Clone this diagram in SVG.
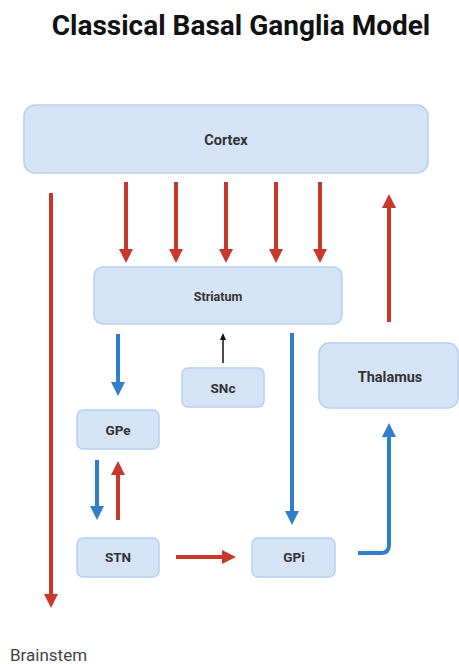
<svg xmlns="http://www.w3.org/2000/svg" width="459" height="664" viewBox="0 0 459 664">
<style>
.box{fill:#d4e3f6;stroke:#b7cfef;stroke-width:1.5}
.lbl{font-family:Roboto,"Liberation Sans",sans-serif;font-weight:bold;fill:#333;text-anchor:middle;dominant-baseline:central}
.r{stroke:#c8382b;stroke-width:4;fill:none}
.b{stroke:#2f80c8;stroke-width:4;fill:none}
</style>
<defs>
<marker id="ar" markerUnits="userSpaceOnUse" markerWidth="16" markerHeight="16" viewBox="0 0 16 16" refX="2" refY="8" orient="auto"><path d="M0,1 L14,8 L0,15 z" fill="#c8382b"/></marker>
<marker id="ab" markerUnits="userSpaceOnUse" markerWidth="16" markerHeight="16" viewBox="0 0 16 16" refX="2" refY="8" orient="auto"><path d="M0,1 L14,8 L0,15 z" fill="#2f80c8"/></marker>
<marker id="ak" markerUnits="userSpaceOnUse" markerWidth="8" markerHeight="8" viewBox="0 0 8 8" refX="1" refY="4" orient="auto"><path d="M0,1 L7,4 L0,7 z" fill="#111"/></marker>
</defs>
<text x="241" y="35" font-family="Roboto,'Liberation Sans',sans-serif" font-weight="bold" font-size="28" fill="#111" text-anchor="middle">Classical Basal Ganglia Model</text>
<g id="cortex"><rect class="box" x="24" y="105" width="404" height="68" rx="11"/><text class="lbl" x="226" y="140" font-size="14.5">Cortex</text></g>
<g id="striatum"><rect class="box" x="94" y="267" width="248" height="57" rx="9"/><text class="lbl" x="218" y="296" font-size="12.5">Striatum</text></g>
<g id="snc"><rect class="box" x="182" y="368" width="82" height="39" rx="6"/><text class="lbl" x="223" y="388" font-size="13.5">SNc</text></g>
<g id="thalamus"><rect class="box" x="319" y="343" width="139" height="65" rx="10"/><text class="lbl" x="390" y="377" font-size="14.5">Thalamus</text></g>
<g id="gpe"><rect class="box" x="77" y="410" width="82" height="39" rx="6"/><text class="lbl" x="118" y="430" font-size="13.5">GPe</text></g>
<g id="stn"><rect class="box" x="77" y="538" width="82" height="39" rx="6"/><text class="lbl" x="118" y="557" font-size="13.5">STN</text></g>
<g id="gpi"><rect class="box" x="252" y="538" width="83" height="39" rx="6"/><text class="lbl" x="294" y="557" font-size="13.5">GPi</text></g>
<g id="brainstem"><text x="10" y="661" font-family="Roboto,'Liberation Sans',sans-serif" font-size="17" fill="#444">Brainstem</text></g>
<g id="connectors">
<line class="r" x1="126" y1="182" x2="126" y2="251" marker-end="url(#ar)"/>
<line class="r" x1="176" y1="182" x2="176" y2="251" marker-end="url(#ar)"/>
<line class="r" x1="226" y1="182" x2="226" y2="251" marker-end="url(#ar)"/>
<line class="r" x1="276" y1="182" x2="276" y2="251" marker-end="url(#ar)"/>
<line class="r" x1="320" y1="182" x2="320" y2="251" marker-end="url(#ar)"/>
<line class="r" x1="51" y1="193" x2="51" y2="596" marker-end="url(#ar)"/>
<line class="r" x1="389" y1="322" x2="389" y2="206" marker-end="url(#ar)"/>
<line class="b" x1="118" y1="334" x2="118" y2="384" marker-end="url(#ab)"/>
<line x1="223" y1="363" x2="223" y2="339" stroke="#111" stroke-width="1.5" marker-end="url(#ak)"/>
<line class="b" x1="292" y1="333" x2="292" y2="513" marker-end="url(#ab)"/>
<line class="b" x1="97" y1="460" x2="97" y2="508" marker-end="url(#ab)"/>
<line class="r" x1="118" y1="520" x2="118" y2="473" marker-end="url(#ar)"/>
<line class="r" x1="176" y1="557" x2="224" y2="557" marker-end="url(#ar)"/>
<path class="b" d="M358,553 H381 Q389,553 389,545 V435" marker-end="url(#ab)"/>
</g>
</svg>
